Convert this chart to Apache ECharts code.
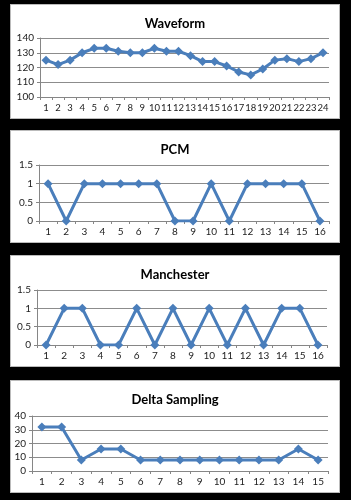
<!DOCTYPE html>
<html>
<head>
<meta charset="utf-8">
<script src="https://cdn.jsdelivr.net/npm/echarts@6/dist/echarts.min.js"></script>
<style>
    html, body {margin: 0; padding: 0; background: #000;}
    body {width: 351px; height: 500px; position: relative; overflow: hidden;}
    .panel {position: absolute; left: 10px; width: 328px; background: #fff; border: 1px solid #bbb;}
</style>
</head>
<body>
<div class="panel" id="c1" style="top:4px; height:113px;"></div>
<div class="panel" id="c2" style="top:130px; height:111px;"></div>
<div class="panel" id="c3" style="top:255px; height:110px;"></div>
<div class="panel" id="c4" style="top:380px; height:111px;"></div>
<script>
const waveform = [125, 122, 125, 130, 133, 133, 131, 130, 130, 133, 131, 131, 128, 124, 124, 121, 117, 115, 119, 125, 126, 124, 126, 130];
const pcm = [1, 0, 1, 1, 1, 1, 1, 0, 0, 1, 0, 1, 1, 1, 1, 0];
const manchester = [0, 1, 1, 0, 0, 1, 0, 1, 0, 1, 0, 1, 0, 1, 1, 0];
const delta = [32, 32, 8, 16, 16, 8, 8, 8, 8, 8, 8, 8, 8, 16, 8];

const font = 'Lato, "Open Sans", sans-serif';
const lineColor = '#4a7ebb';

function makeChart(id, title, data, yMin, yMax, yStep, grid, labelSize) {
    const chart = echarts.init(document.getElementById(id), null, {renderer: 'canvas'});
    chart.setOption({
        animation: false,
        title: {
            text: title,
            left: 'center',
            top: 7,
            textStyle: {fontFamily: font, fontSize: 13, fontWeight: 'bold', color: '#000'},
        },
        grid: {...grid, containLabel: false, outerBoundsMode: 'none'},
        xAxis: {
            type: 'category',
            data: data.map((x, i) => String(i + 1)),
            boundaryGap: true,
            axisLine: {lineStyle: {color: '#868686', width: 1}},
            axisTick: {show: true, length: 3, lineStyle: {color: '#868686'}},
            axisLabel: {fontFamily: font, fontSize: labelSize, color: '#222', margin: 6, interval: 0, hideOverlap: false},
        },
        yAxis: {
            type: 'value',
            min: yMin,
            max: yMax,
            interval: yStep,
            axisLine: {show: true, lineStyle: {color: '#868686', width: 1}},
            axisTick: {show: true, length: 3, lineStyle: {color: '#868686'}},
            axisLabel: {fontFamily: font, fontSize: 10, color: '#222', margin: 6},
            splitLine: {lineStyle: {color: '#8c8c8c', width: 1}},
        },
        series: [{
            type: 'line',
            data: data,
            symbol: 'diamond',
            symbolSize: 9,
            lineStyle: {color: lineColor, width: 3},
            itemStyle: {color: lineColor},
            emphasis: {disabled: true},
        }],
    });
    return chart;
}

makeChart('c1', 'Waveform', waveform, 100, 140, 10, {left: 29, right: 10, top: 33, bottom: 21}, 9.5);
makeChart('c2', 'PCM', pcm, 0, 1.5, 0.5, {left: 28, right: 10, top: 34, bottom: 21}, 10);
makeChart('c3', 'Manchester', manchester, 0, 1.5, 0.5, {left: 26, right: 12, top: 34, bottom: 21}, 10);
makeChart('c4', 'Delta Sampling', delta, 0, 40, 10, {left: 21, right: 11, top: 35, bottom: 21}, 10);
</script>
</body>
</html>
